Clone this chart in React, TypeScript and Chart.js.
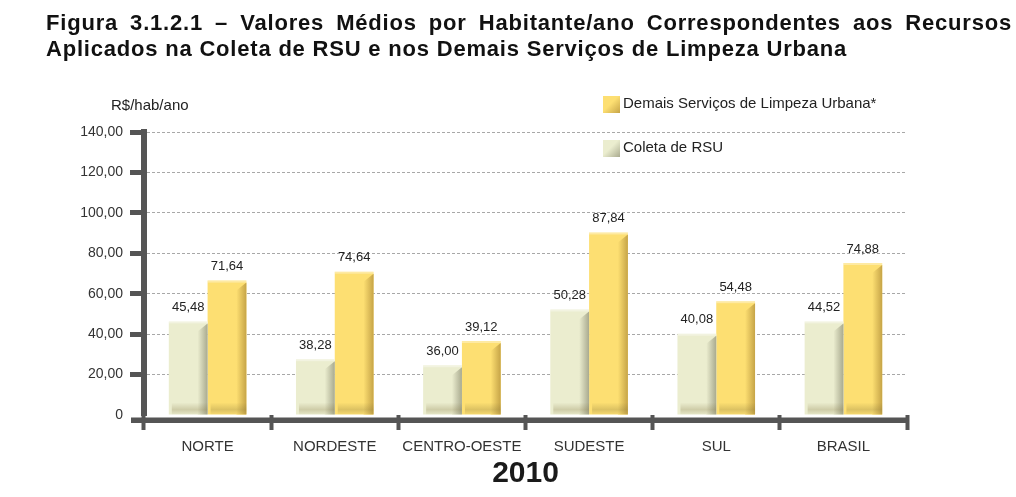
import React, { useEffect, useRef } from 'react';
import { Chart, registerables } from 'chart.js';

Chart.register(...registerables);

const categories = ['NORTE', 'NORDESTE', 'CENTRO-OESTE', 'SUDESTE', 'SUL', 'BRASIL'];
const coletaValues = [46.3, 27.6, 24.6, 52.2, 40.2, 46.3];
const demaisValues = [66.5, 70.9, 36.6, 90.3, 56.3, 75.2];
const coletaLabels = ['45,48', '38,28', '36,00', '50,28', '40,08', '44,52'];
const demaisLabels = ['71,64', '74,64', '39,12', '87,84', '54,48', '74,88'];
const yTickLabels = ['0', '20,00', '40,00', '60,00', '80,00', '100,00', '120,00', '140,00'];
const seriesNames = ['Coleta de RSU', 'Demais Serviços de Limpeza Urbana*'];
const titleLine1 = 'Figura 3.1.2.1 – Valores Médios por Habitante/ano Correspondentes aos Recursos';
const titleLine2 = 'Aplicados na Coleta de RSU e nos Demais Serviços de Limpeza Urbana';
const yAxisTitle = 'R$/hab/ano';
const xAxisTitle = '2010';

const FONT = '"Liberation Sans", Arial, sans-serif';
const mainColors = ['#ebedcf', '#fddf72'];
const darkColors = ['#a9aa8f', '#c6a447'];
const labelArrays = [coletaLabels, demaisLabels];

const decorPlugin = {
  id: 'decor',
  beforeDatasetsDraw(chart: any) {
    const { ctx, chartArea } = chart;
    ctx.save();
    ctx.fillStyle = '#555555';
    ctx.fillRect(131, chartArea.bottom + 2.5, chartArea.right + 2 - 131, 5.5);
    ctx.restore();
  },
  afterDatasetsDraw(chart: any) {
    const { ctx, chartArea } = chart;
    ctx.save();
    chart.data.datasets.forEach((ds: any, di: number) => {
      const meta = chart.getDatasetMeta(di);
      meta.data.forEach((bar: any, i: number) => {
        const { x, y, base, width } = bar.getProps(['x', 'y', 'base', 'width'], true);
        const left = x - width / 2;
        const right = x + width / 2;
        const h = base - y;
        const sw = Math.min(width * 0.26, 10);
        const g = ctx.createLinearGradient(right - sw, 0, right, 0);
        g.addColorStop(0, mainColors[di]);
        g.addColorStop(1, darkColors[di]);
        ctx.fillStyle = g;
        ctx.beginPath();
        ctx.moveTo(right - sw, y + sw);
        ctx.lineTo(right, y + 2);
        ctx.lineTo(right, base);
        ctx.lineTo(right - sw, base);
        ctx.closePath();
        ctx.fill();
        ctx.fillStyle = 'rgba(255,255,255,0.35)';
        ctx.fillRect(left, y, width, 2);
        const sh = Math.min(12, h);
        const gb = ctx.createLinearGradient(0, base - sh, 0, base);
        gb.addColorStop(0, 'rgba(120,105,50,0)');
        gb.addColorStop(0.6, 'rgba(120,105,50,0.25)');
        gb.addColorStop(1, 'rgba(120,105,50,0.05)');
        ctx.fillStyle = gb;
        ctx.fillRect(left + 3, base - sh, width - 3, sh);
        ctx.fillStyle = '#222222';
        ctx.font = `13px ${FONT}`;
        ctx.textAlign = 'center';
        ctx.textBaseline = 'middle';
        ctx.fillText(labelArrays[di][i], x, y - 14);
      });
    });
    ctx.fillStyle = '#222222';
    ctx.font = `15px ${FONT}`;
    ctx.textAlign = 'left';
    ctx.textBaseline = 'middle';
    ctx.fillText(yAxisTitle, 111, 106);
    ctx.font = `bold 30px ${FONT}`;
    ctx.textAlign = 'center';
    ctx.fillStyle = '#1a1a1a';
    ctx.fillText(xAxisTitle, (chartArea.left + chartArea.right) / 2, 474);
    const legendItems = [
      { name: seriesNames[1], di: 1, y: 104 },
      { name: seriesNames[0], di: 0, y: 148 },
    ];
    legendItems.forEach((it) => {
      const sx = 603, sy = it.y - 8, s = 17;
      const lg = ctx.createLinearGradient(sx, sy, sx + s, sy + s);
      lg.addColorStop(0, mainColors[it.di]);
      lg.addColorStop(0.45, mainColors[it.di]);
      lg.addColorStop(1, darkColors[it.di]);
      ctx.fillStyle = lg;
      ctx.fillRect(sx, sy, s, s);
      ctx.fillStyle = '#222222';
      ctx.font = `15px ${FONT}`;
      ctx.textAlign = 'left';
      ctx.textBaseline = 'middle';
      ctx.fillText(it.name, 623, it.y);
    });
    ctx.restore();
  },
};

export default function App() {
  const canvasRef = useRef<HTMLCanvasElement | null>(null);

  useEffect(() => {
    const canvas = canvasRef.current;
    if (!canvas) return;
    const chart = new Chart(canvas, {
      type: 'bar',
      data: {
        labels: categories,
        datasets: [
          {
            label: seriesNames[0],
            data: coletaValues,
            backgroundColor: mainColors[0],
            borderWidth: 0,
            categoryPercentage: 0.61,
            barPercentage: 1,
          },
          {
            label: seriesNames[1],
            data: demaisValues,
            backgroundColor: mainColors[1],
            borderWidth: 0,
            categoryPercentage: 0.61,
            barPercentage: 1,
          },
        ],
      },
      options: {
        responsive: false,
        animation: false,
        devicePixelRatio: 1,
        layout: { padding: { left: 0, right: 109, top: 132, bottom: 0 } },
        plugins: {
          legend: { display: false },
          title: { display: false },
          tooltip: { enabled: false },
        },
        scales: {
          x: {
            offset: true,
            grid: {
              offset: true,
              drawOnChartArea: false,
              drawTicks: true,
              tickLength: 15,
              tickWidth: 4,
              tickColor: '#555555',
            },
            border: { display: false },
            ticks: {
              color: '#333333',
              font: { family: FONT, size: 15 },
              padding: 8,
              maxRotation: 0,
              autoSkip: false,
            },
            afterFit: (s: any) => {
              s.height = 82;
            },
          },
          y: {
            min: 0,
            max: 140,
            ticks: {
              stepSize: 20,
              color: '#333333',
              font: { family: FONT, size: 14 },
              padding: 7,
              callback: (_v: any, i: number) => yTickLabels[i],
            },
            grid: {
              color: (c: any) => (c.tick && c.tick.value === 0 ? 'rgba(0,0,0,0)' : '#a8a8a8'),
              lineWidth: 1,
              tickLength: 14,
              tickWidth: 5,
              tickColor: (c: any) => (c.tick && c.tick.value === 0 ? 'rgba(0,0,0,0)' : '#555555'),
            },
            border: { display: true, color: '#555555', width: 6, dash: [3, 2] },
            afterFit: (s: any) => {
              s.width = 144;
            },
          },
        },
      },
      plugins: [decorPlugin],
    });
    return () => chart.destroy();
  }, []);

  const titleStyle: React.CSSProperties = {
    position: 'absolute',
    left: 46,
    fontFamily: FONT,
    fontWeight: 'bold',
    fontSize: 22,
    letterSpacing: '0.8px',
    color: '#111111',
    whiteSpace: 'nowrap',
    lineHeight: '26px',
  };

  return (
    <div style={{ position: 'absolute', left: 0, top: 0, width: 1016, height: 497, background: '#ffffff', overflow: 'hidden' }}>
      <canvas ref={canvasRef} width={1016} height={497} style={{ position: 'absolute', left: 0, top: 0 }} />
      <div
        style={{
          ...titleStyle,
          top: 10,
          width: 966,
          whiteSpace: 'normal',
          textAlign: 'justify',
          textAlignLast: 'justify',
        }}
      >
        {titleLine1}
      </div>
      <div style={{ ...titleStyle, top: 36 }}>{titleLine2}</div>
    </div>
  );
}
